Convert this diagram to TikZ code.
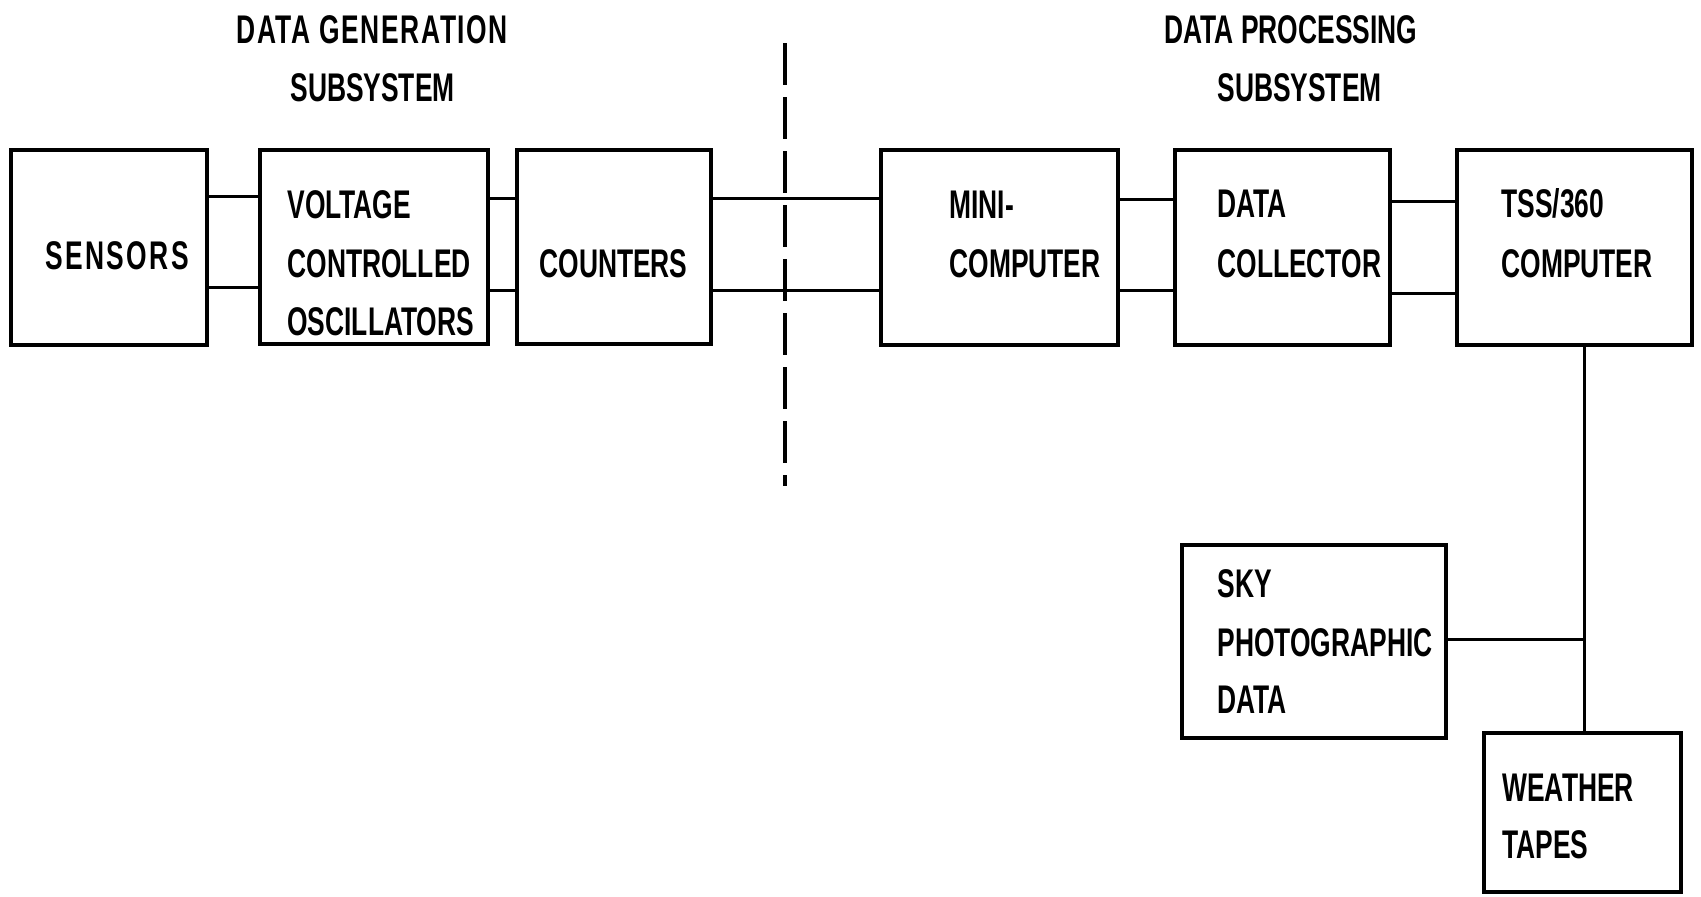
\documentclass[tikz,border=0pt]{standalone}
\usepackage{fontspec}
\setmainfont{Liberation Sans}[FakeStretch=0.66]
\usetikzlibrary{fit}
\begin{document}
\begin{tikzpicture}[x=0.5pt,y=-0.5pt,
  box/.style={draw, line width=1.8pt, inner sep=0pt, outer sep=0pt},
  txt/.style={anchor=base west, inner sep=0pt, font=\fontsize{20pt}{24pt}\selectfont\bfseries},
  link/.style={line width=1.5pt},
  divider/.style={line width=2pt, dash pattern=on 21pt off 6pt}]
\useasboundingbox (0,0) rectangle (1701,896);
% titles
\node[txt] (t1a) at (236,43) {\addfontfeatures{LetterSpace=4}DATA GENERATION};
\node[txt] (t1b) at (290,101) {SUBSYSTEM};
\node[txt] (t2a) at (1164,43) {DATA PROCESSING};
\node[txt] (t2b) at (1217,101) {SUBSYSTEM};
% divider
\coordinate (dtop) at (785,43);
\coordinate (dbot) at (785,486);
\draw[divider] (dtop) -- (dbot);
% boxes
\node[box, fit={(11,150) (207,345)}] (sensors) {};
\node[box, fit={(260,150) (488,344)}] (vco) {};
\node[box, fit={(517,150) (711,344)}] (counters) {};
\node[box, fit={(881,150) (1118,345)}] (mini) {};
\node[box, fit={(1175,150) (1390,345)}] (dc) {};
\node[box, fit={(1457,150) (1692,345)}] (tss) {};
\node[box, fit={(1182,545) (1446,738)}] (sky) {};
\node[box, fit={(1484,733) (1681,892)}] (weather) {};
% texts
\node[txt] (l1) at (45,269) {\addfontfeatures{LetterSpace=6}SENSORS};
\node[txt] (l2) at (287,218) {VOLTAGE};
\node[txt] (l3) at (287,277) {CONTROLLED};
\node[txt] (l4) at (287,335) {OSCILLATORS};
\node[txt] (l5) at (539,277) {COUNTERS};
\node[txt] (l6) at (949,218) {MINI-};
\node[txt] (l7) at (949,277) {COMPUTER};
\node[txt] (l8) at (1217,217) {DATA};
\node[txt] (l9) at (1217,277) {COLLECTOR};
\node[txt] (l10) at (1501,217) {TSS/360};
\node[txt] (l11) at (1501,277) {COMPUTER};
\node[txt] (l12) at (1217,597) {SKY};
\node[txt] (l13) at (1217,656) {PHOTOGRAPHIC};
\node[txt] (l14) at (1217,713) {DATA};
\node[txt] (l15) at (1502,801) {WEATHER};
\node[txt] (l16) at (1502,858) {TAPES};
% connectors
\draw[link] (sensors.east |- 0,196) -- (vco.west |- 0,196);
\draw[link] (sensors.east |- 0,287) -- (vco.west |- 0,287);
\draw[link] (vco.east |- 0,198) -- (counters.west |- 0,198);
\draw[link] (vco.east |- 0,290) -- (counters.west |- 0,290);
\draw[link] (counters.east |- 0,198) -- (mini.west |- 0,198);
\draw[link] (counters.east |- 0,290) -- (mini.west |- 0,290);
\draw[link] (mini.east |- 0,199) -- (dc.west |- 0,199);
\draw[link] (mini.east |- 0,290) -- (dc.west |- 0,290);
\draw[link] (dc.east |- 0,201) -- (tss.west |- 0,201);
\draw[link] (dc.east |- 0,293) -- (tss.west |- 0,293);
\coordinate (tap) at (1584,639);
\draw[link] (tss.south -| tap) -- (weather.north -| tap);
\draw[link] (sky.east |- tap) -- (tap);
\end{tikzpicture}
\end{document}
